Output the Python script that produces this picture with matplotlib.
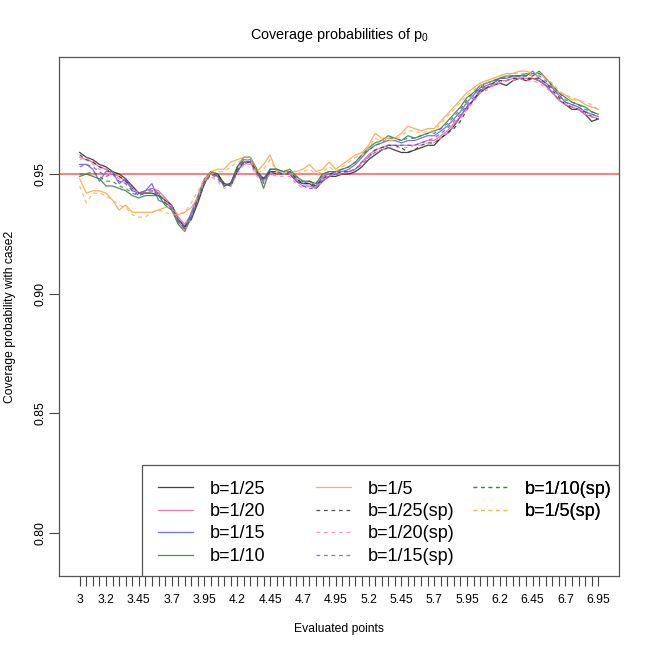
import numpy as np
import matplotlib.pyplot as plt
from matplotlib.patches import Rectangle

plt.rcParams['font.family'] = ['Liberation Sans', 'DejaVu Sans']
plt.rcParams['mathtext.fontset'] = 'custom'
plt.rcParams['mathtext.rm'] = 'Liberation Sans'

# evaluated points 3, 3.05, ..., 6.95 -> plotted at index 1..80
idx = np.arange(1, 81)
tick_pos = [1, 5, 10, 15, 20, 25, 30, 35, 40, 45, 50, 55, 60, 65, 70, 75, 80]
tick_txt = ['3', '3.2', '3.45', '3.7', '3.95', '4.2', '4.45', '4.7', '4.95',
            '5.2', '5.45', '5.7', '5.95', '6.2', '6.45', '6.7', '6.95']

# coverage probabilities (x1000)
b25 = [959, 957, 956, 954, 953, 951, 950, 948, 945,
       942, 942, 942, 941, 939, 937, 931, 928, 931,
       938, 946, 951, 950, 946, 945, 951, 955, 955,
       951, 948, 951, 951, 950, 950, 947, 946, 946,
       944, 947, 949, 949, 950, 950, 951, 953, 956,
       958, 960, 961, 960, 959, 959, 960, 961, 962, 962,
       965, 967, 970, 974, 978, 981, 984, 986, 987,
       988, 987, 989, 990, 989, 990, 989, 987, 984,
       981, 979, 977, 977, 975, 972, 973]
b20 = [957, 956, 955, 953, 952, 950, 949, 947, 944,
       942, 943, 944, 943, 940, 937, 932, 929, 933,
       940, 947, 951, 949, 946, 946, 952, 954, 955,
       950, 947, 950, 950, 950, 950, 947, 945, 945,
       944, 948, 949, 950, 950, 951, 952, 955, 958,
       960, 961, 962, 962, 962, 962, 962, 963, 964, 964,
       966, 968, 971, 974, 978, 981, 985, 986, 987,
       989, 989, 990, 990, 990, 990, 989, 987, 984,
       981, 979, 978, 977, 975, 974, 973]
b15 = [954, 954, 952, 947, 951, 951, 946, 948, 943,
       942, 943, 946, 939, 938, 936, 930, 927, 934,
       941, 948, 951, 949, 945, 946, 953, 956, 956,
       951, 948, 952, 952, 951, 951, 948, 946, 947,
       945, 949, 950, 951, 951, 952, 954, 957, 960,
       962, 963, 964, 964, 963, 964, 964, 965, 966, 966,
       968, 970, 973, 976, 980, 983, 986, 987, 988,
       990, 990, 991, 991, 991, 993, 990, 988, 986,
       983, 980, 979, 978, 976, 975, 974]
b10 = [949, 950, 949, 948, 945, 945, 944, 943, 941,
       940, 941, 941, 941, 937, 935, 929, 926, 932,
       940, 947, 951, 950, 945, 946, 953, 957, 957,
       952, 944, 952, 952, 951, 952, 949, 947, 947,
       946, 950, 951, 951, 952, 953, 955, 958, 961,
       963, 964, 966, 965, 964, 966, 965, 966, 967, 968,
       969, 972, 975, 978, 982, 984, 987, 988, 989,
       990, 991, 991, 991, 992, 991, 993, 990, 987,
       984, 982, 980, 979, 978, 976, 975]
b5 = [948, 942, 943, 943, 942, 939, 935, 937, 934,
      934, 934, 934, 935, 936, 936, 933, 934, 936,
      940, 947, 951, 952, 952, 955, 956, 957, 957,
      951, 954, 958, 951, 951, 951, 951, 952, 954,
      951, 952, 955, 952, 954, 956, 958, 959, 962,
      967, 965, 965, 965, 967, 970, 969, 968, 969, 969,
      972, 975, 978, 981, 984, 986, 988, 989, 990,
      991, 992, 992, 993, 993, 992, 992, 990, 987,
      984, 983, 981, 981, 979, 978, 977]
b25_sp = [958, 956, 955, 953, 952, 950, 949, 947, 944,
          942, 942, 943, 942, 939, 937, 931, 928, 932,
          939, 946, 950, 950, 946, 946, 952, 955, 955,
          951, 948, 951, 950, 950, 951, 948, 946, 946,
          945, 948, 950, 950, 951, 951, 952, 954, 957,
          960, 961, 962, 962, 961, 959, 960, 962, 963, 963,
          965, 967, 969, 972, 977, 981, 985, 986, 988,
          989, 989, 990, 990, 990, 990, 990, 988, 985,
          982, 979, 978, 977, 976, 974, 973]
b20_sp = [956, 957, 954, 952, 952, 950, 948, 946, 944,
          942, 942, 943, 942, 939, 936, 931, 926, 932,
          941, 947, 949, 947, 944, 945, 950, 954, 954,
          949, 947, 950, 949, 949, 949, 946, 944, 945,
          944, 947, 949, 950, 950, 951, 952, 954, 957,
          959, 960, 961, 961, 961, 961, 962, 962, 963, 963,
          965, 967, 970, 973, 977, 980, 984, 985, 987,
          988, 989, 989, 990, 989, 989, 988, 986, 984,
          981, 979, 978, 977, 975, 974, 973]
b15_sp = [953, 954, 953, 951, 949, 950, 947, 946, 943,
          941, 942, 944, 942, 938, 936, 931, 927, 932,
          939, 946, 950, 948, 945, 946, 951, 955, 955,
          950, 947, 951, 950, 950, 950, 947, 945, 944,
          944, 947, 949, 950, 950, 951, 952, 955, 957,
          959, 960, 962, 962, 962, 962, 962, 963, 964, 965,
          967, 969, 972, 975, 979, 982, 985, 987, 988,
          990, 990, 991, 991, 991, 992, 991, 989, 986,
          983, 980, 979, 978, 976, 975, 974]
b10_sp = [950, 950, 951, 949, 947, 947, 945, 944, 942,
          941, 942, 942, 942, 938, 935, 930, 927, 932,
          940, 947, 950, 949, 945, 946, 952, 956, 956,
          951, 946, 952, 952, 951, 951, 949, 947, 947,
          946, 950, 951, 951, 952, 953, 955, 958, 960,
          962, 963, 965, 965, 964, 965, 965, 966, 967, 967,
          969, 971, 974, 977, 981, 984, 986, 988, 989,
          990, 990, 991, 991, 991, 991, 992, 990, 987,
          984, 981, 980, 979, 977, 976, 975]
b5_sp = [945, 938, 942, 942, 941, 939, 937, 936, 933,
         932, 932, 934, 935, 934, 933, 933, 934, 938,
         943, 948, 950, 951, 951, 953, 955, 956, 956,
         950, 952, 956, 951, 950, 950, 950, 951, 952,
         950, 951, 953, 951, 953, 955, 957, 958, 961,
         965, 964, 964, 964, 966, 968, 968, 967, 968, 968,
         971, 974, 977, 980, 983, 985, 987, 988, 990,
         991, 991, 992, 992, 992, 991, 991, 990, 988,
         985, 983, 982, 981, 980, 979, 977]

series = [b25, b20, b15, b10, b5, b25_sp, b20_sp, b15_sp, b10_sp, b5_sp]
labels = ['b=1/25', 'b=1/20', 'b=1/15', 'b=1/10', 'b=1/5',
          'b=1/25(sp)', 'b=1/20(sp)', 'b=1/15(sp)', 'b=1/10(sp)', 'b=1/5(sp)']
colors = ['#222222', '#ee5a9c', '#5a5aff', '#2f7f2f', '#ffa040',
          '#333333', '#ff80c0', '#5a5aff', '#3f7f3f', '#ffb050']
dash = (0, (3, 3))
styles = ['-'] * 5 + [dash] * 5

fig = plt.figure(figsize=(6.5, 6.5), dpi=100)
ax = fig.add_axes([59 / 650, 74 / 650, 560 / 650, 519 / 650])

handles = []
for s, lab, c, ls in zip(series, labels, colors, styles):
    l, = ax.plot(idx, np.array(s) / 1000, color=c, ls=ls, lw=0.9, alpha=0.85)
    handles.append(l)

ax.axhline(0.95, color='#ff8080', lw=1.5, zorder=1)

ax.set_xlim(-2.16, 83.16)
ax.set_ylim(0.7820, 0.9989)
ax.set_xticks(idx)
ax.set_xticklabels([tick_txt[tick_pos.index(i)] if i in tick_pos else '' for i in idx])
ax.set_yticks([0.80, 0.85, 0.90, 0.95])
ax.set_yticklabels(['0.80', '0.85', '0.90', '0.95'], rotation=90, va='center')
ax.tick_params(axis='both', length=7, width=0.8, color='#444444', labelsize=8.7)
ax.tick_params(axis='x', pad=6)
ax.tick_params(axis='y', pad=2)
for sp in ax.spines.values():
    sp.set_color('#555555')
    sp.set_linewidth(0.9)

ax.set_title('Coverage probabilities of p$_0$', fontsize=10.4, pad=13)
ax.set_xlabel('Evaluated points', fontsize=8.7, labelpad=12)
ax.set_ylabel('Coverage probability with case2', fontsize=8.7, va='center')
ax.yaxis.set_label_coords(-0.0875, 0.5)

# legend: frame plus three columns
ax.add_patch(Rectangle((0.1482, 0), 0.8518, 0.2139, transform=ax.transAxes,
                       facecolor='white', edgecolor='#555555', lw=0.9, zorder=4))
cols = [(0.1768, [0, 1, 2, 3]), (0.459, [4, 5, 6, 7]), (0.739, [8, 9])]
for x0, ids in cols:
    leg = ax.legend([handles[i] for i in ids], [labels[i] for i in ids],
                    loc='upper left', bbox_to_anchor=(x0, 0.1838), frameon=False,
                    borderpad=0, borderaxespad=0, handlelength=1.94,
                    handletextpad=0.94, labelspacing=0.30, fontsize=13)
    leg.set_zorder(5)
    ax.add_artist(leg)

fig.savefig('out.png', dpi=100)
